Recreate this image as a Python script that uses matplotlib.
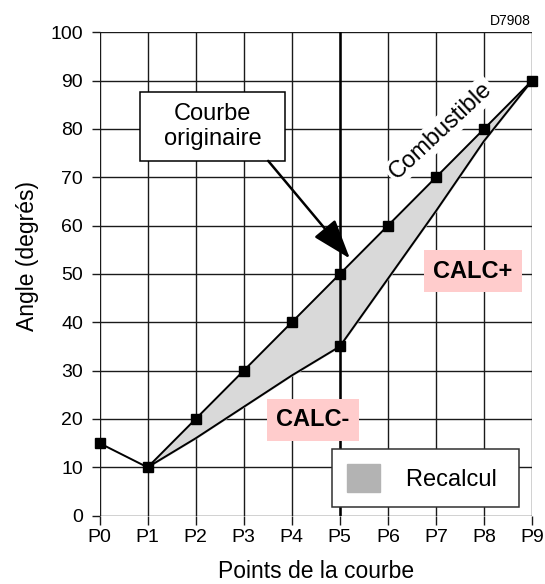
import numpy as np
import matplotlib.pyplot as plt
from matplotlib.patches import Patch, Rectangle

plt.rcParams['font.family'] = ['Liberation Sans', 'DejaVu Sans']

points = ['P0', 'P1', 'P2', 'P3', 'P4', 'P5', 'P6', 'P7', 'P8', 'P9']
original = [15, 10, 20, 30, 40, 50, 60, 70, 80, 90]
# recalculated curve, from P1 to P9
recalc = [10, 16, 22.5, 29, 35, 49, 63, 77.5, 90]

x = np.arange(len(points))
xr = x[1:]

fig = plt.figure(figsize=(5.45, 5.84), dpi=100)
ax = fig.add_axes([0.1826, 0.117, 0.7936, 0.8277])

ax.fill_between(xr, original[1:], recalc, color='#d9d9d9', zorder=2)
ax.plot(xr, recalc, color='black', lw=1.4, zorder=3)
ax.plot(x, original, color='black', lw=1.4, marker='s', ms=6.5, zorder=4, clip_on=False)
ax.plot([5], [recalc[4]], color='black', marker='s', ms=6.5, zorder=4)
ax.axvline(5, color='black', lw=1.8, zorder=3)

ax.set_xlim(0, 9)
ax.set_ylim(0, 100)
ax.set_xticks(x)
ax.set_xticklabels(points)
ax.set_yticks(np.arange(0, 101, 10))
ax.grid(True, color='#1a1a1a', lw=1.0, zorder=1)
ax.set_axisbelow(True)
for s in ax.spines.values():
    s.set_visible(False)
ax.tick_params(axis='both', labelsize=14, width=1.0, color='#1a1a1a')
ax.tick_params(axis='x', length=6.5, pad=3)
ax.tick_params(axis='y', length=5.8, pad=6)

ax.set_xlabel('Points de la courbe', fontsize=16.5, labelpad=10)
ax.set_ylabel('Angle (degrés)', fontsize=16.5)
ax.yaxis.set_label_coords(-0.14, 0.538)

# "Courbe originaire" callout
ax.add_patch(Rectangle((0.84, 73.4), 3.01, 14.2, fc='white', ec='black', lw=1.1, zorder=6))
ax.text(2.35, 80.5, 'Courbe\noriginaire', fontsize=17, ha='center', va='center',
        linespacing=1.15, zorder=7)
ax.annotate('', xy=(5.21, 53.2), xytext=(3.51, 73.4),
            arrowprops=dict(arrowstyle='-|>,head_length=1.45,head_width=0.5',
                            mutation_scale=17, color='black', lw=1.8,
                            shrinkA=0, shrinkB=0),
            zorder=6)

ax.text(7.10, 79.6, 'Combustible', fontsize=17, rotation=43, ha='center', va='center',
        rotation_mode='anchor',
        bbox=dict(boxstyle='square,pad=0.12', fc='white', ec='none'), zorder=5)

ax.text(7.77, 50.6, 'CALC+', fontsize=17, fontweight='bold', ha='center', va='center',
        bbox=dict(boxstyle='square,pad=0.4', fc='#ffcccc', ec='none'), zorder=5)
ax.text(4.44, 19.8, 'CALC-', fontsize=17, fontweight='bold', ha='center', va='center',
        bbox=dict(boxstyle='square,pad=0.4', fc='#ffcccc', ec='none'), zorder=5)

leg = ax.legend(handles=[Patch(color='#b3b3b3', label='Recalcul ')], loc='upper left',
                bbox_to_anchor=(0.537, 0.138), borderaxespad=0, fontsize=17,
                fancybox=False, framealpha=1, edgecolor='#303030',
                handlelength=1.4, handleheight=1.4, handletextpad=1.1,
                borderpad=0.65)
leg.get_frame().set_linewidth(1.1)
leg.set_zorder(6)

fig.text(0.936, 0.9646, 'D7908', fontsize=10, ha='center', va='center')

fig.savefig('out.png', dpi=100)
